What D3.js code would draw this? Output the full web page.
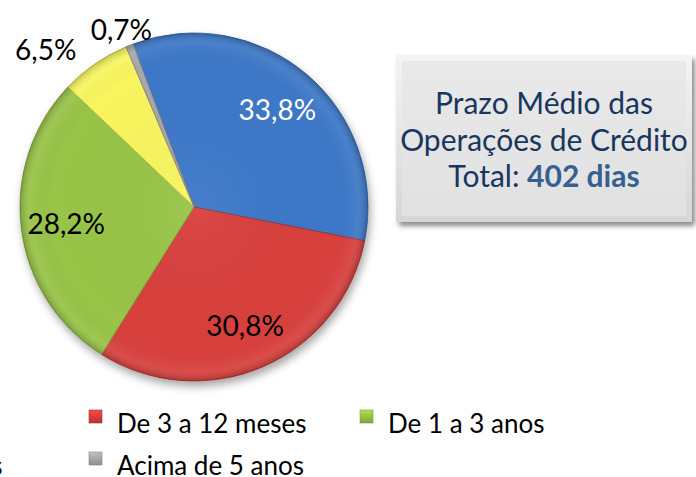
<!DOCTYPE html>
<html>
<head>
<meta charset="utf-8">
<script src="https://cdn.jsdelivr.net/npm/d3@7"></script>
<style>
  body { margin: 0; background: #fff; }
  #chart { width: 696px; height: 477px; overflow: hidden; }
  text { font-family: Lato, "Open Sans", sans-serif; }
</style>
</head>
<body>
<div id="chart"></div>
<script>

var categories = ["Até 3 meses", "De 3 a 12 meses", "De 1 a 3 anos", "De 3 a 5 anos", "Acima de 5 anos"];
var values = [33.8, 30.8, 28.2, 6.5, 0.7];
var labels = ["33,8%", "30,8%", "28,2%", "6,5%", "0,7%"];
var colors = ["#3c78c8", "#d83f3d", "#98c447", "#f8f55e", "#a8a8a8"];
var boxLines = ["Prazo Médio das", "Operações de Crédito"];
var boxTotalLabel = "Total: ";
var boxTotalValue = "402 dias";

var width = 696, height = 477;
var cx = 194, cy = 207, r = 174;
var startAngle = -20.5 * Math.PI / 180;

var svg = d3.select("#chart")
    .append("svg")
    .attr("width", width)
    .attr("height", height);

var defs = svg.append("defs");

var shadow = defs.append("filter").attr("id", "pieShadow")
    .attr("x", "-20%").attr("y", "-20%").attr("width", "140%").attr("height", "140%");
shadow.append("feDropShadow")
    .attr("dx", 2).attr("dy", 5).attr("stdDeviation", 4)
    .attr("flood-color", "#000").attr("flood-opacity", 0.35);

var boxShadow = defs.append("filter").attr("id", "boxShadow")
    .attr("x", "-10%").attr("y", "-10%").attr("width", "120%").attr("height", "130%");
boxShadow.append("feDropShadow")
    .attr("dx", 3).attr("dy", 4).attr("stdDeviation", 2.5)
    .attr("flood-color", "#000").attr("flood-opacity", 0.45);

// shading over the slices: darker towards the rim (slices are drawn around 0,0)
var rimShade = defs.append("radialGradient").attr("id", "rimShade")
    .attr("gradientUnits", "userSpaceOnUse")
    .attr("cx", 0).attr("cy", 0).attr("r", r);
rimShade.append("stop").attr("offset", "0%").attr("stop-color", "#fff").attr("stop-opacity", 0.05);
rimShade.append("stop").attr("offset", "82%").attr("stop-color", "#000").attr("stop-opacity", 0.0);
rimShade.append("stop").attr("offset", "94%").attr("stop-color", "#fff").attr("stop-opacity", 0.06);
rimShade.append("stop").attr("offset", "100%").attr("stop-color", "#000").attr("stop-opacity", 0.2);

var boxGrad = defs.append("linearGradient").attr("id", "boxGrad")
    .attr("x1", 0).attr("y1", 0).attr("x2", 0).attr("y2", 1);
boxGrad.append("stop").attr("offset", "0%").attr("stop-color", "#f4f4f4");
boxGrad.append("stop").attr("offset", "100%").attr("stop-color", "#d6d6d6");

var boxInner = defs.append("linearGradient").attr("id", "boxInner")
    .attr("x1", 0).attr("y1", 0).attr("x2", 0).attr("y2", 1);
boxInner.append("stop").attr("offset", "0%").attr("stop-color", "#e9e9e9");
boxInner.append("stop").attr("offset", "100%").attr("stop-color", "#e1e1e1");

colors.forEach(function(c, i) {
    var g = defs.append("linearGradient").attr("id", "mark" + i)
        .attr("x1", 0).attr("y1", 0).attr("x2", 0).attr("y2", 1);
    g.append("stop").attr("offset", "0%").attr("stop-color", d3.color(c).brighter(0.4));
    g.append("stop").attr("offset", "100%").attr("stop-color", d3.color(c).darker(0.5));
});

var pie = d3.pie()
    .sort(null)
    .startAngle(startAngle)
    .endAngle(startAngle + 2 * Math.PI)
    .value(function(d) { return d; });

var arcs = pie(values);

var arc = d3.arc().innerRadius(0).outerRadius(r);

var pieG = svg.append("g")
    .attr("transform", "translate(" + cx + "," + cy + ")");

pieG.append("g").attr("filter", "url(#pieShadow)")
    .selectAll("path")
    .data(arcs)
    .enter()
    .append("path")
    .attr("d", arc)
    .attr("fill", function(d, i) { return colors[i]; })
    .attr("stroke", function(d, i) { return d3.color(colors[i]).darker(0.8); })
    .attr("stroke-width", 0.8);

pieG.append("g")
    .selectAll("path")
    .data(arcs)
    .enter()
    .append("path")
    .attr("d", arc)
    .attr("fill", "url(#rimShade)");

// labels
var inner = d3.arc().innerRadius(r * 0.74).outerRadius(r * 0.74);

pieG.append("g")
    .selectAll("text")
    .data(arcs)
    .enter()
    .append("text")
    .attr("font-size", 28)
    .attr("fill", function(d, i) { return i === 0 ? "#fff" : "#000"; })
    .attr("dominant-baseline", "central")
    .text(function(d, i) { return labels[i]; })
    .each(function(d) {
        var t = d3.select(this);
        var mid = (d.startAngle + d.endAngle) / 2;
        if (d.endAngle - d.startAngle > 0.6) {
            var c = inner.centroid(d);
            t.attr("text-anchor", "middle").attr("x", c[0]).attr("y", c[1]);
        } else {
            // outside end
            var s = Math.sin(mid);
            var px = (r + 22) * s;
            var py = -(r + 18) * Math.cos(mid);
            t.attr("text-anchor", Math.abs(s) < 0.45 ? "middle" : (s < 0 ? "end" : "start"))
             .attr("x", Math.abs(s) < 0.45 ? px : px - 6).attr("y", py);
        }
    });

// text box
var box = {x: 396, y: 55, w: 296, h: 167};
svg.append("rect")
    .attr("x", box.x).attr("y", box.y)
    .attr("width", box.w).attr("height", box.h)
    .attr("fill", "url(#boxGrad)")
    .attr("filter", "url(#boxShadow)");
svg.append("rect")
    .attr("x", box.x + 6).attr("y", box.y + 6)
    .attr("width", box.w - 12).attr("height", box.h - 12)
    .attr("fill", "url(#boxInner)");

var boxText = svg.append("g")
    .attr("font-size", 30)
    .attr("fill", "#17375e")
    .attr("text-anchor", "middle");

boxLines.forEach(function(line, i) {
    boxText.append("text")
        .attr("x", box.x + box.w / 2)
        .attr("y", 114 + i * 36.5)
        .text(line);
});
var total = boxText.append("text")
    .attr("x", box.x + box.w / 2)
    .attr("y", 114 + 2 * 36.5);
total.append("tspan").text(boxTotalLabel);
total.append("tspan").attr("font-weight", "bold").attr("fill", "#376092").text(boxTotalValue);

// legend, three per row, the first column runs off the left edge
var colStep = 271, legendLeft = -154;
var rowY = [433, 475];

var legend = svg.append("g")
    .selectAll("g")
    .data(categories)
    .enter()
    .append("g")
    .attr("transform", function(d, i) {
        return "translate(" + (legendLeft + (i % 3) * colStep) + "," + rowY[Math.floor(i / 3)] + ")";
    });

legend.append("rect")
    .attr("x", -28).attr("y", -23)
    .attr("width", 13).attr("height", 13)
    .attr("fill", function(d, i) { return "url(#mark" + i + ")"; })
    .attr("stroke", function(d, i) { return d3.color(colors[i]).darker(0.6); })
    .attr("stroke-width", 0.6);

legend.append("text")
    .attr("font-size", 26)
    .attr("fill", "#000")
    .text(function(d) { return d; });

</script>
</body>
</html>
